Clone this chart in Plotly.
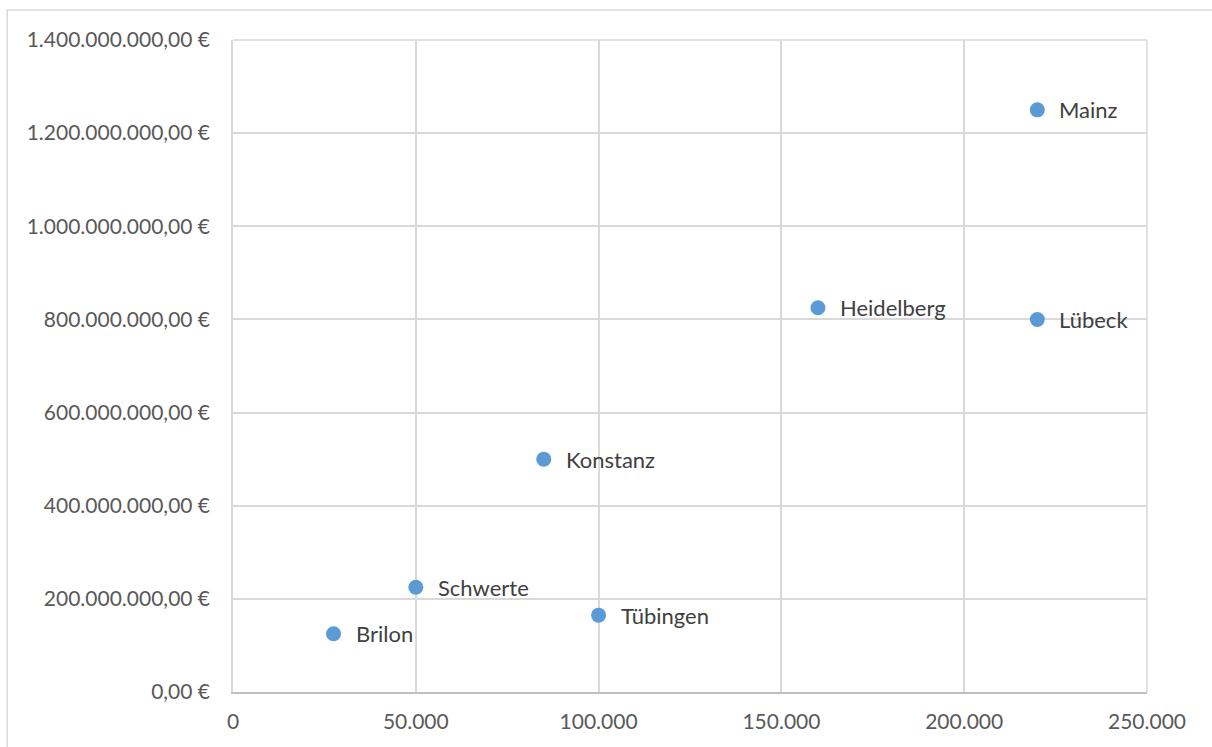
import plotly.graph_objects as go

cities = ["Brilon", "Schwerte", "Tübingen", "Konstanz", "Heidelberg", "Lübeck", "Mainz"]
einwohner = [27500, 50000, 100000, 85000, 160000, 220000, 220000]
betrag = [125e6, 225e6, 165e6, 500e6, 825e6, 800e6, 1250e6]

x_ticks = [0, 50000, 100000, 150000, 200000, 250000]
y_ticks = [0, 200e6, 400e6, 600e6, 800e6, 1000e6, 1200e6, 1400e6]


def de_num(v, dec):
    s = f"{v:,.{dec}f}"
    return s.replace(",", "X").replace(".", ",").replace("X", ".")


x_labels = [de_num(v, 0) for v in x_ticks]
y_labels = [de_num(v, 2) + " €" for v in y_ticks]

FONT = "Lato"
fig = go.Figure()
fig.add_trace(go.Scatter(
    x=einwohner, y=betrag, mode="markers",
    marker=dict(size=15, color="#5b9bd5"),
    hoverinfo="skip", showlegend=False,
))
for c, xv, yv in zip(cities, einwohner, betrag):
    fig.add_annotation(x=xv, y=yv, text=c, showarrow=False, xanchor="left",
                       yanchor="middle", xshift=20, yshift=0,
                       font=dict(family=FONT, size=22, color="#404040"))

fig.add_shape(type="rect", xref="paper", yref="paper",
              x0=-0.247, x1=1.08, y0=-0.12, y1=1.046,
              line=dict(color="#d9d9d9", width=1.5), layer="below")
# top and right border gridlines of the plot area
fig.add_shape(type="line", xref="paper", yref="paper", x0=0, x1=1, y0=1, y1=1,
              line=dict(color="#d9d9d9", width=1.5), layer="below")
fig.add_shape(type="line", xref="paper", yref="paper", x0=1, x1=1, y0=0, y1=1,
              line=dict(color="#d9d9d9", width=1.5), layer="below")

fig.update_layout(
    width=1212, height=747,
    margin=dict(l=233, r=65, t=40, b=55),
    paper_bgcolor="white", plot_bgcolor="white",
    font=dict(family=FONT, size=21, color="#595959"),
    xaxis=dict(range=[0, 250000], tickvals=x_ticks, ticktext=x_labels,
               showgrid=True, gridcolor="#d9d9d9", gridwidth=1.5,
               showline=True, linecolor="#bfbfbf", linewidth=1.5,
               zeroline=False, ticks="", ticklabelstandoff=10),
    yaxis=dict(range=[0, 1400e6], tickvals=y_ticks, ticktext=y_labels,
               showgrid=True, gridcolor="#d9d9d9", gridwidth=1.5,
               showline=True, linecolor="#d9d9d9", linewidth=1.5,
               zeroline=False, ticks="", ticklabelstandoff=17),
)
fig.write_html("out.html")
